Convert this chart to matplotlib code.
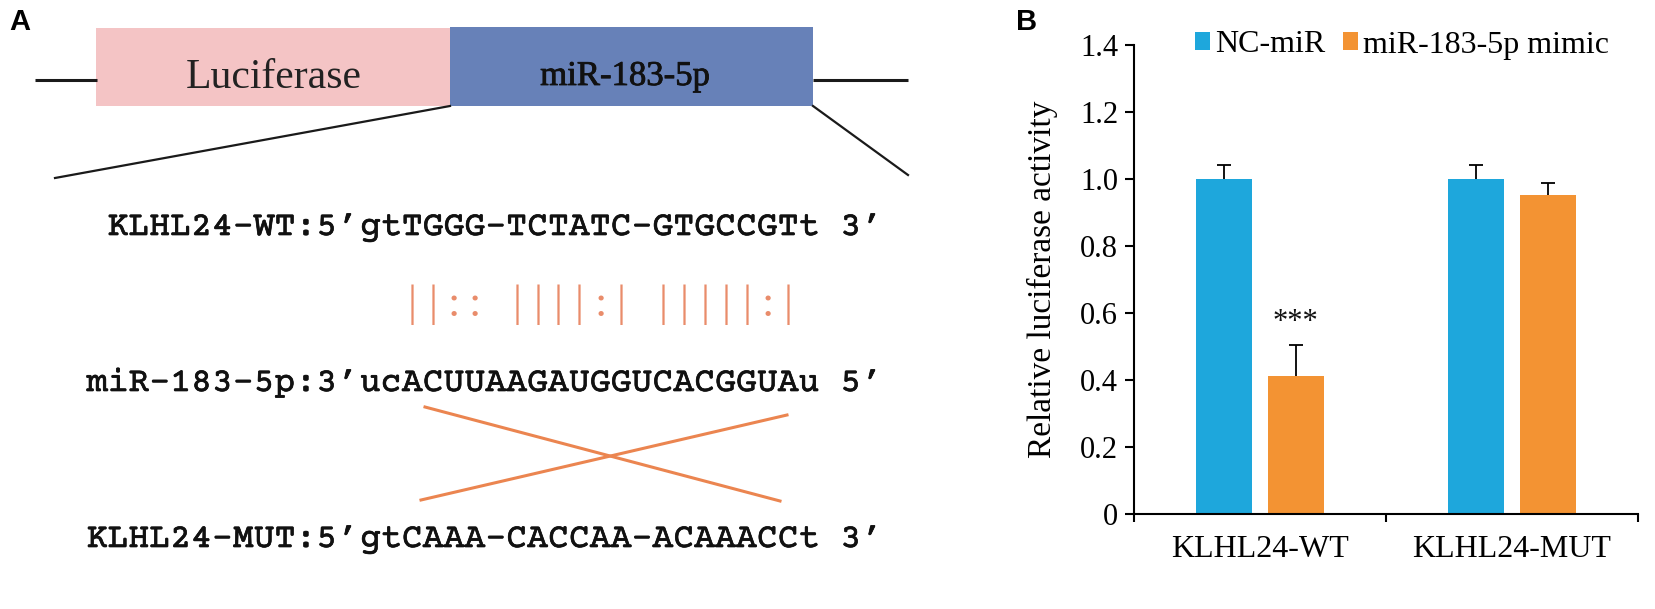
import matplotlib
matplotlib.use("Agg")
import matplotlib.pyplot as plt
from matplotlib.patches import Rectangle
from matplotlib import font_manager as fm
from matplotlib.font_manager import FontProperties
import matplotlib.patheffects as pe
import numpy as np

# ---------------- data: panel B ----------------
categories = ["KLHL24-WT", "KLHL24-MUT"]
series_labels = ["NC-miR", "miR-183-5p mimic"]
nc_mir_values = [1.00, 1.00]
nc_mir_errors = [0.042, 0.042]
mimic_values = [0.412, 0.953]
mimic_errors = [0.091, 0.036]
significance_marks = ["***", ""]
y_ticks = [0, 0.2, 0.4, 0.6, 0.8, 1.0, 1.2, 1.4]
y_tick_labels = ["0", "0.2", "0.4", "0.6", "0.8", "1.0", "1.2", "1.4"]
y_label = "Relative luciferase activity"

# ---------------- text: panel A ----------------
construct_labels = ["Luciferase", "miR-183-5p"]
seq_labels = ["KLHL24-WT:5\u2019", "miR-183-5p:3\u2019", "KLHL24-MUT:5\u2019"]
seq_bodies = ["gtTGGG-TCTATC-GTGCCGTt 3\u2019",
              "ucACUUAAGAUGGUCACGGUAu 5\u2019",
              "gtCAAA-CACCAA-ACAAACCt 3\u2019"]
pairing = "||:: ||||:| |||||:|"
panel_letters = ["A", "B"]

# ---------------- styles ----------------
BLUE = "#1EA7DC"
ORANGE = "#F39333"
PINK = "#F4C4C5"
BOXBLUE = "#6781B8"
XLINE = "#EB8550"
PAIRC = "#E98C6B"
SERIF = "Liberation Serif"

_installed = {f.name for f in fm.fontManager.ttflist}
def pick(cands):
    for c in cands:
        if c in _installed:
            return c
    return cands[-1]

MONO = pick(["Courier Prime", "Cutive Mono", "IBM Plex Mono", "Liberation Mono"])

W, H = 1656, 609
fig = plt.figure(figsize=(W / 100, H / 100), dpi=100)
renderer = fig.canvas.get_renderer()

# ================= Panel A (schematic, pixel coordinates) =================
axA = fig.add_axes([0, 0, 1, 1])
axA.set_xlim(0, W)
axA.set_ylim(H, 0)
axA.axis("off")

dark = "#1a1a1a"
axA.plot([35, 97], [80, 80], color=dark, lw=2.2, solid_capstyle="butt")
axA.plot([813, 908], [80, 80], color=dark, lw=2.2, solid_capstyle="butt")
axA.add_patch(Rectangle((96, 28), 354, 78, facecolor=PINK, edgecolor="none"))
axA.add_patch(Rectangle((450, 27), 363, 79, facecolor=BOXBLUE, edgecolor="none"))
axA.plot([450, 55], [106, 178], color=dark, lw=1.6)
axA.plot([813, 908], [106, 175], color=dark, lw=1.6)

axA.text(274, 88, construct_labels[0], ha="center", va="baseline",
         family=SERIF, fontsize=30, color="#222222")
axA.text(625, 85, construct_labels[1], ha="center", va="baseline",
         family=SERIF, fontsize=25, color="#111111",
         path_effects=[pe.withStroke(linewidth=0.6, foreground="#111111")])

# monospaced sequences: size the font so one column is `pitch` pixels wide
pitch = 20.9
probe = FontProperties(family=MONO, size=24)
w20, _, _ = renderer.get_text_width_height_descent("A" * 20, probe, ismath=False)
seq_fs = 24 * pitch / (w20 / 20)
seq_x0 = 360
baselines = [235, 391, 547]
thick = [pe.withStroke(linewidth=0.5, foreground="#111111")]
for lab, body, yb in zip(seq_labels, seq_bodies, baselines):
    axA.text(seq_x0 - 2, yb, lab, ha="right", va="baseline", family=MONO,
             fontsize=seq_fs, color="#111111", path_effects=thick)
    axA.text(seq_x0, yb, body, ha="left", va="baseline", family=MONO,
             fontsize=seq_fs, color="#111111", path_effects=thick)

# pairing marks, one per sequence column (start at the 3rd column)
for i, ch in enumerate(pairing):
    if ch != " ":
        axA.text(seq_x0 + (2 + i + 0.5) * pitch, 316, ch, ha="center",
                 va="baseline", family=SERIF, fontsize=32, color=PAIRC)

axA.plot([425, 780], [407, 501], color=XLINE, lw=2.2)
axA.plot([421, 787], [500, 415], color=XLINE, lw=2.2)

# ================= Panel B (bar chart) =================
left, right, bottom, top = 1134, 1638, 514, 45
axB = fig.add_axes([left / W, 1 - bottom / H, (right - left) / W, (bottom - top) / H])
axB.patch.set_alpha(0)

x = np.arange(len(categories))
bw = 0.223
off = 0.142
axB.bar(x - off, nc_mir_values, bw, color=BLUE, label=series_labels[0], zorder=2)
axB.bar(x + off, mimic_values, bw, color=ORANGE, label=series_labels[1], zorder=2)
for xs, vals, errs in [(x - off, nc_mir_values, nc_mir_errors),
                       (x + off, mimic_values, mimic_errors)]:
    eb = axB.errorbar(xs, vals, yerr=[np.zeros(len(x)), errs], fmt="none",
                      ecolor="black", elinewidth=1.3, capsize=5, capthick=1.3,
                      zorder=1)
    eb[1][0].set_visible(False)   # no cap at the bar top
for xi, v, e, s in zip(x + off, mimic_values, mimic_errors, significance_marks):
    if s:
        axB.text(xi, v + e + 0.045, s, ha="center", va="baseline",
                 family=SERIF, fontsize=22, color="#111111")

axB.set_xlim(-0.5, 1.5)
axB.set_ylim(0, 1.4)
axB.spines["top"].set_visible(False)
axB.spines["right"].set_visible(False)
for sp in ("left", "bottom"):
    axB.spines[sp].set_linewidth(1.5)
    axB.spines[sp].set_color("black")

axB.set_yticks(y_ticks)
axB.set_yticklabels(y_tick_labels, family=SERIF, fontsize=22)
axB.tick_params(axis="y", direction="out", length=6.5, width=1.5, pad=5)

axB.set_xticks([-0.5, 0.5, 1.5])
axB.set_xticklabels([])
axB.tick_params(axis="x", which="major", direction="out", length=6, width=1.5)
axB.set_xticks(x, minor=True)
axB.set_xticklabels(categories, minor=True, family=SERIF, fontsize=23)
axB.tick_params(axis="x", which="minor", length=0, pad=15)

axB.set_ylabel(y_label, family=SERIF, fontsize=24)
axB.yaxis.set_label_coords(-0.15, 0.5)

leg = axB.legend(ncol=2, frameon=False, loc="center left",
                 bbox_to_anchor=((1195 - left) / (right - left), 1.0),
                 handlelength=0.48, handleheight=0.5, handletextpad=0.15,
                 columnspacing=0.55, borderpad=0, borderaxespad=0,
                 prop={"family": SERIF, "size": 23})

fig.text(9 / W, 1 - 8 / H, panel_letters[0], ha="left", va="top",
         family="Liberation Sans", fontweight="bold", fontsize=21)
fig.text(1016 / W, 1 - 8 / H, panel_letters[1], ha="left", va="top",
         family="Liberation Sans", fontweight="bold", fontsize=21)

fig.savefig("out.png", dpi=100)
